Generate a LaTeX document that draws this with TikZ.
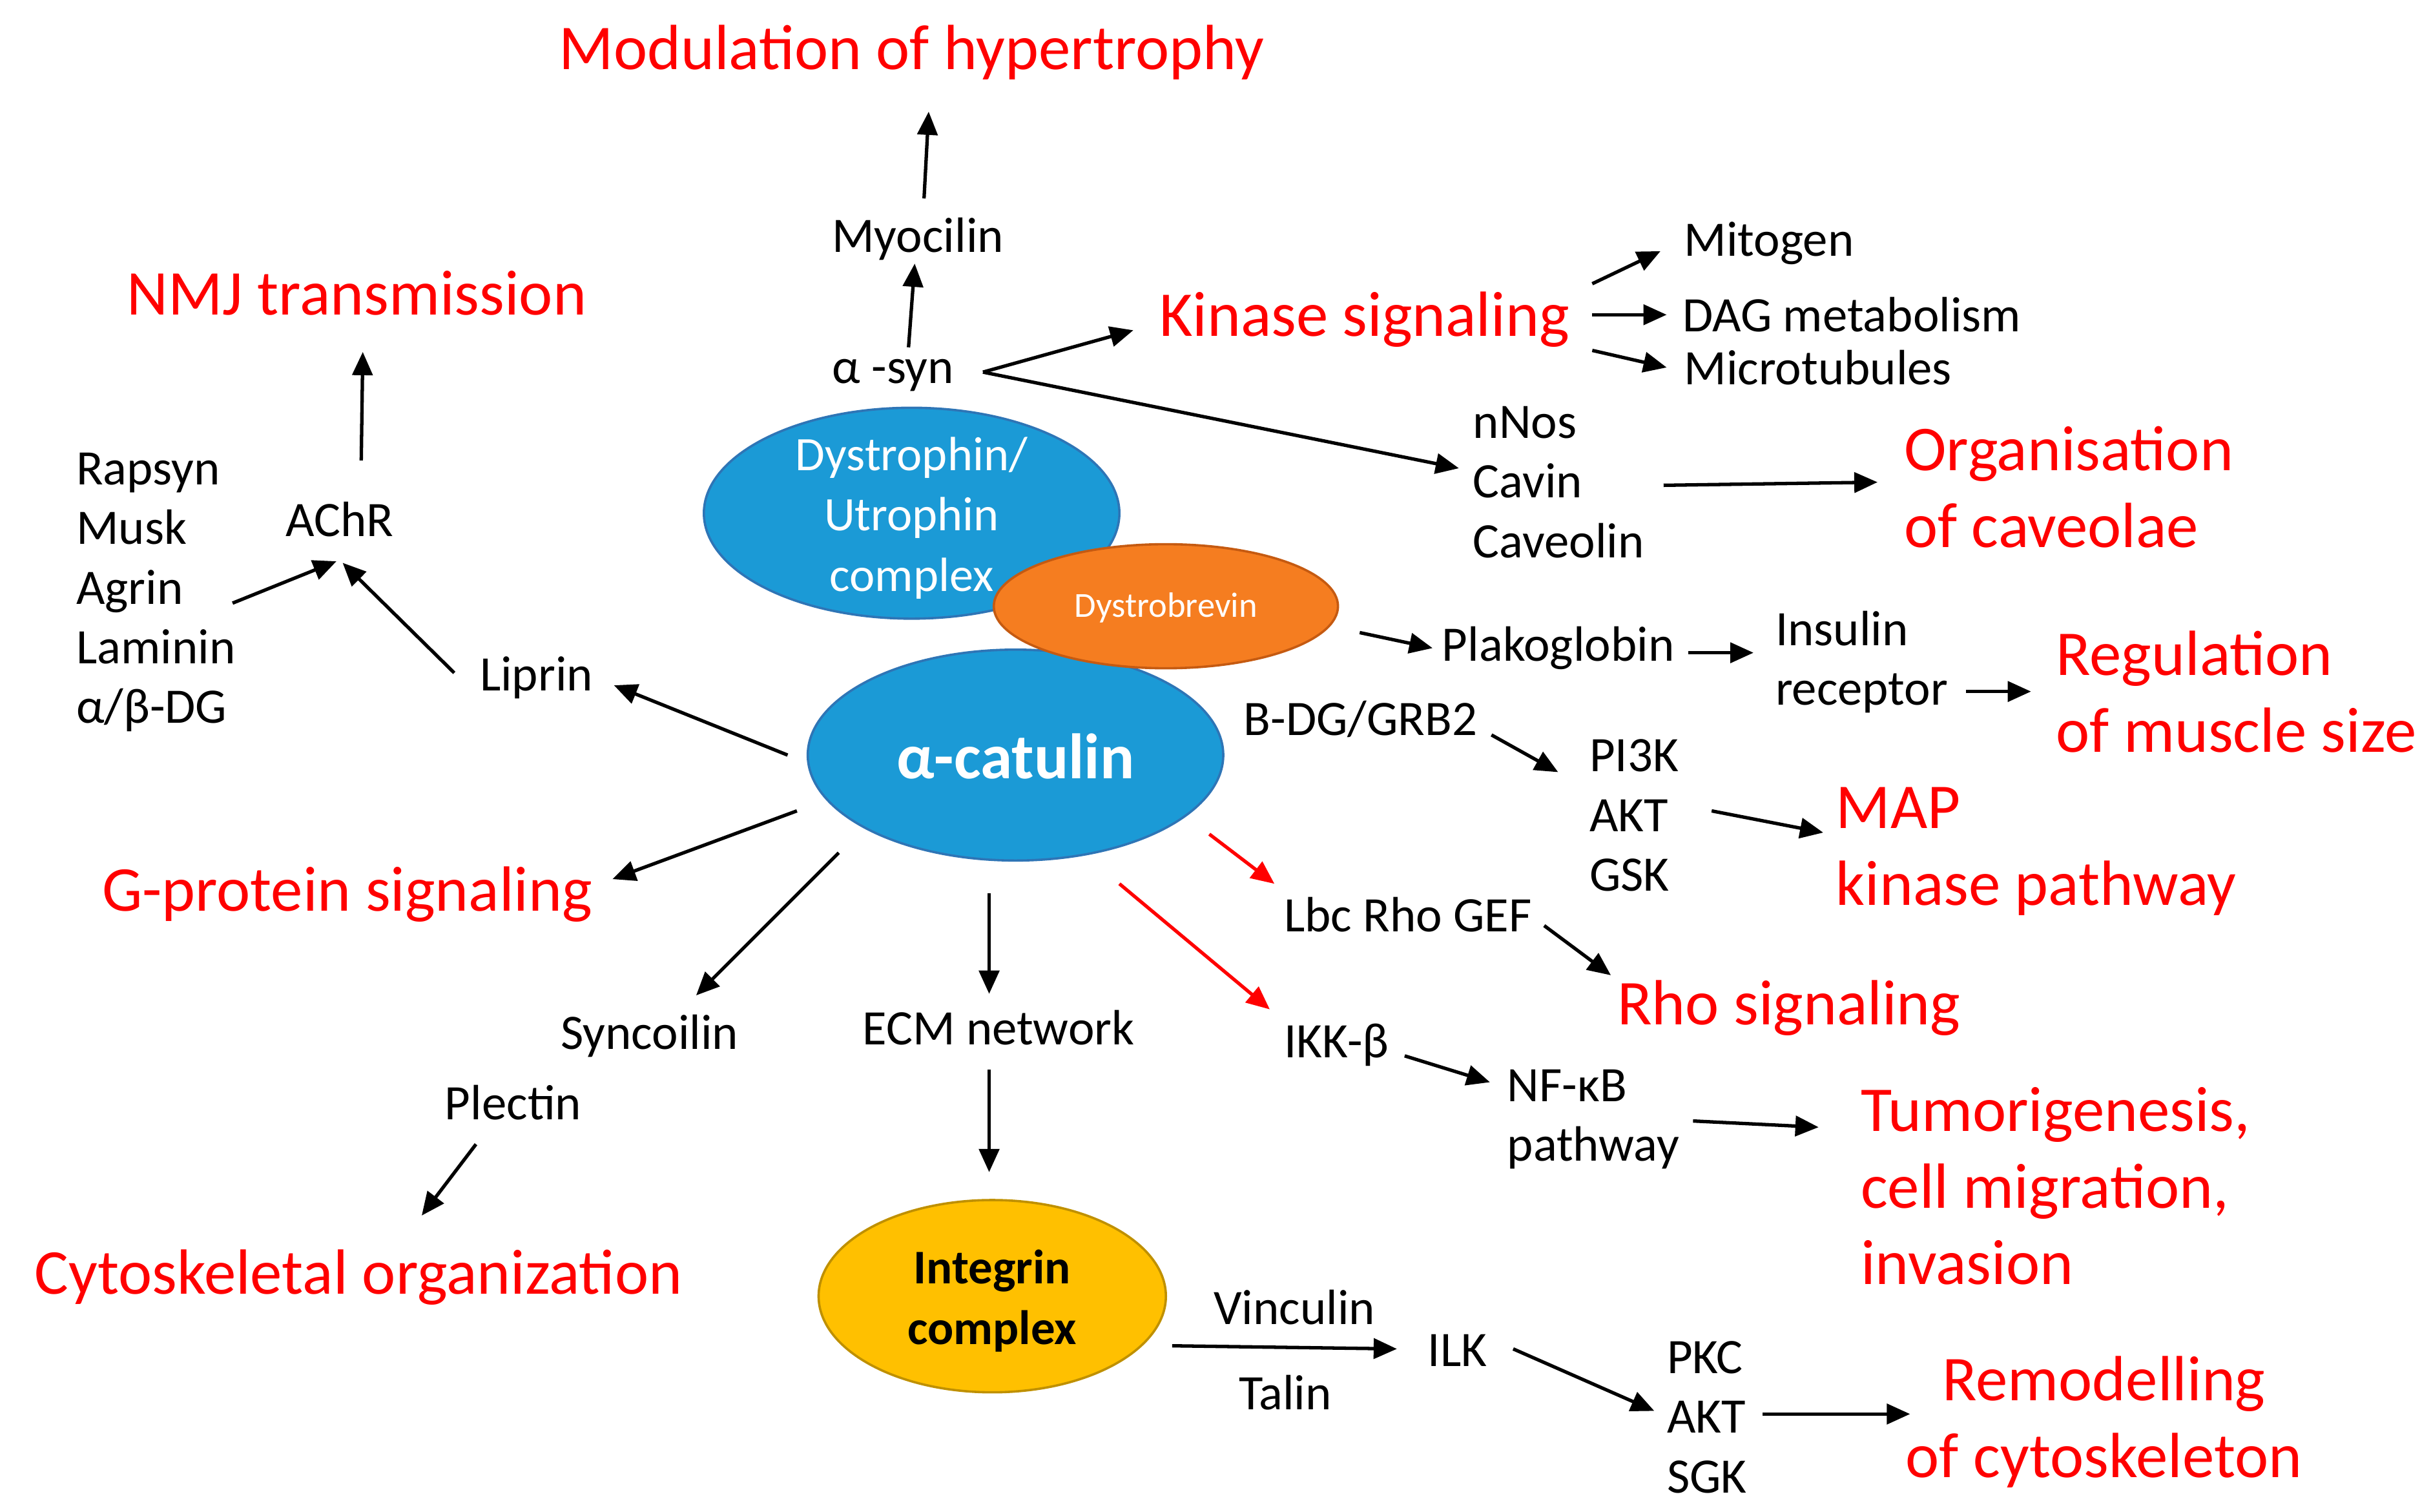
\documentclass[tikz,border=0pt]{standalone}
\usepackage{fontspec}
\setmainfont{Carlito}
\usetikzlibrary{arrows.meta,shapes.geometric}
\definecolor{cblue}{RGB}{27,154,214}
\definecolor{cblueline}{RGB}{46,117,182}
\definecolor{corange}{RGB}{245,125,32}
\definecolor{corangeline}{RGB}{197,90,17}
\definecolor{cgold}{RGB}{255,192,0}
\definecolor{cgoldline}{RGB}{191,144,0}
\definecolor{cred}{RGB}{255,0,0}
\tikzset{
  rt/.style={text=cred, inner sep=0pt, yshift=-2pt, font=\fontsize{41.2}{49.5}\selectfont},
  bt/.style={text=black, inner sep=0pt, yshift=-2pt, font=\fontsize{32}{38.5}\selectfont},
  intext/.style={inner sep=0pt, yshift=-3pt},
  arr/.style={draw=black, line width=2.2pt, -{Triangle[length=15pt,width=13pt]}},
  rarr/.style={arr, draw=cred, -{Triangle[length=15pt,width=13pt,fill=cred]}},
  blob/.style={ellipse, inner sep=0pt, line width=1.5pt},
}
\begin{document}
\begin{tikzpicture}[x=1pt,y=-1pt]
\useasboundingbox (0,0) rectangle (1568,975);
% ellipses
\node[blob, fill=cblue, draw=cblueline, minimum width=268pt, minimum height=136pt] (dys) at (588,331) {};
\node[blob, fill=cblue, draw=cblueline, minimum width=268pt, minimum height=136pt] (cat) at (655,487) {};
\node[blob, fill=corange, draw=corangeline, minimum width=222pt, minimum height=80pt] (dbr) at (752,391) {};
\node[blob, fill=cgold, draw=cgoldline, minimum width=224pt, minimum height=124pt] (integ) at (640,836) {};
\node[intext, text=white, align=center, font=\fontsize{31}{39}\selectfont] (dystxt) at (dys) {Dystrophin/\\Utrophin\\complex};
\node[intext, yshift=2pt, text=white, font=\fontsize{22.7}{27}\selectfont] (dbrtxt) at (dbr) {Dystrobrevin};
\node[intext, yshift=2pt, text=white, font=\fontsize{41.4}{49}\bfseries] (cattxt) at (cat) {α-catulin};
\node[intext, align=center, font=\fontsize{31.2}{39}\bfseries] (integtxt) at (integ) {Integrin\\complex};
% red texts
\node[rt] (mod) at (588,32) {Modulation of hypertrophy};
\node[rt] (nmj) at (230,187) {NMJ transmission};
\node[rt] (kin) at (880,204) {Kinase signaling};
\node[rt, align=left, anchor=west] (org) at (1228,312) {Organisation\\of caveolae};
\node[rt, align=left, anchor=west] (reg) at (1326,444) {Regulation\\of muscle size};
\node[rt, align=left, anchor=west] (map) at (1184,547) {MAP\\kinase pathway};
\node[rt] (gpr) at (224,575) {G-protein signaling};
\node[rt, anchor=west] (rho) at (1043,648) {Rho signaling};
\node[rt, align=left, anchor=west] (tum) at (1200,763) {Tumorigenesis,\\cell migration,\\invasion};
\node[rt, anchor=west] (cyt) at (22,822) {Cytoskeletal organization};
\node[rt, align=center] (rem) at (1357,915) {Remodelling\\of cytoskeleton};
% black texts
\node[bt] (myo) at (592,152) {Myocilin};
\node[bt] (asyn) at (576,240) {α -syn};
\node[bt, anchor=west] (mit) at (1086,155) {Mitogen};
\node[bt, anchor=west] (dag) at (1085,201) {DAG metabolism};
\node[bt, anchor=west] (mic) at (1086,235) {Microtubules};
\node[bt, align=left, anchor=west] (cav) at (950,309) {nNos\\Cavin\\Caveolin};
\node[bt, align=left, anchor=west] (rap) at (49,380) {Rapsyn\\Musk\\Agrin\\Laminin\\α/β-DG};
\node[bt] (achr) at (219,333) {AChR};
\node[bt] (lip) at (346,435) {Liprin};
\node[bt, anchor=west] (plak) at (930,416) {Plakoglobin};
\node[bt, align=left, anchor=west] (ins) at (1145,425) {Insulin\\receptor};
\node[bt, anchor=west] (bdg) at (802,462) {B-DG/GRB2};
\node[bt, align=left, anchor=west] (pi3k) at (1025,524) {PI3K\\AKT\\GSK};
\node[bt, anchor=west] (lbc) at (828,588) {Lbc Rho GEF};
\node[bt] (syn) at (419,666) {Syncoilin};
\node[bt] (ple) at (331,709) {Plectin};
\node[bt] (ecm) at (644,661) {ECM network};
\node[bt, anchor=west] (ikk) at (828,672) {IKK-β};
\node[bt, align=left, anchor=west] (nfkb) at (972,720) {NF-κB\\pathway};
\node[bt] (vin) at (835,841) {Vinculin};
\node[bt] (tal) at (829,896) {Talin};
\node[bt] (ilk) at (940,869) {ILK};
\node[bt, align=left, anchor=west] (pkc) at (1075,912) {PKC\\AKT\\SGK};
% arrows
\draw[arr] ([shift={(4,-26)}]myo.center) -- ([shift={(11,38)}]mod.center);
\draw[arr] ([shift={(10,-18)}]asyn.center) -- ([shift={(-2,16)}]myo.center);
\draw[arr] ([shift={(58,-2)}]asyn.center) -- ([shift={(-149,7)}]kin.center);
\draw[arr] ([shift={(58,-2)}]asyn.center) -- ([shift={(-9,-9)}]cav.west);
\draw[arr] ([shift={(147,-23)}]kin.center) -- ([shift={(-15,5)}]mit.west);
\draw[arr] ([shift={(147,-3)}]kin.center) -- ([shift={(-10,0)}]dag.west);
\draw[arr] ([shift={(147,20)}]kin.center) -- ([shift={(-11,0)}]mic.west);
\draw[arr] ([shift={(123,2)}]cav.west) -- ([shift={(-17,-3)}]org.west);
\draw[arr] ([shift={(14,-38)}]achr.center) -- ([shift={(4,38)}]nmj.center);
\draw[arr] ([shift={(101,7)}]rap.west) -- ([shift={(-2,27)}]achr.center);
\draw[arr] ([shift={(-53,-3)}]lip.center) -- ([shift={(2,28)}]achr.center);
\draw[arr] ([shift={(-147,0)}]cat.center) -- ([shift={(50,5)}]lip.center);
\draw[arr] ([shift={(-141,36)}]cat.center) -- ([shift={(171,-10)}]gpr.center);
\draw[arr] ([shift={(-114,63)}]cat.center) -- ([shift={(30,-26)}]syn.center);
\draw[arr] ([shift={(-17,89)}]cat.center) -- ([shift={(-6,-22)}]ecm.center);
\draw[arr] ([shift={(-6,27)}]ecm.center) -- ([shift={(-2,-80)}]integ.center);
\draw[arr] ([shift={(-24,27)}]ple.center) -- ([shift={(250,-40)}]cyt.west);
\draw[rarr] ([shift={(125,51)}]cat.center) -- ([shift={(-6,-20)}]lbc.west);
\draw[rarr] ([shift={(67,83)}]cat.center) -- ([shift={(-9,-23)}]ikk.west);
\draw[arr] ([shift={(125,17)}]dbr.center) -- ([shift={(-6,0)}]plak.west);
\draw[arr] ([shift={(159,3)}]plak.west) -- ([shift={(-14,-6)}]ins.west);
\draw[arr] ([shift={(123,19)}]ins.west) -- ([shift={(-16,0)}]reg.west);
\draw[arr] ([shift={(160,10)}]bdg.west) -- ([shift={(-20,-28)}]pi3k.west);
\draw[arr] ([shift={(79,-3)}]pi3k.west) -- ([shift={(-8,-12)}]map.west);
\draw[arr] ([shift={(168,7)}]lbc.west) -- ([shift={(-4,-21)}]rho.west);
\draw[arr] ([shift={(78,7)}]ikk.west) -- ([shift={(-11,-24)}]nfkb.west);
\draw[arr] ([shift={(120,1)}]nfkb.west) -- ([shift={(-27,-38)}]tum.west);
\draw[arr] ([shift={(116,32)}]integ.center) -- ([shift={(-39,-1)}]ilk.center);
\draw[arr] ([shift={(36,-1)}]ilk.center) -- ([shift={(-8,-4)}]pkc.west);
\draw[arr] ([shift={(62,-2)}]pkc.west) -- ([shift={(-125,-5)}]rem.center);
\end{tikzpicture}
\end{document}
